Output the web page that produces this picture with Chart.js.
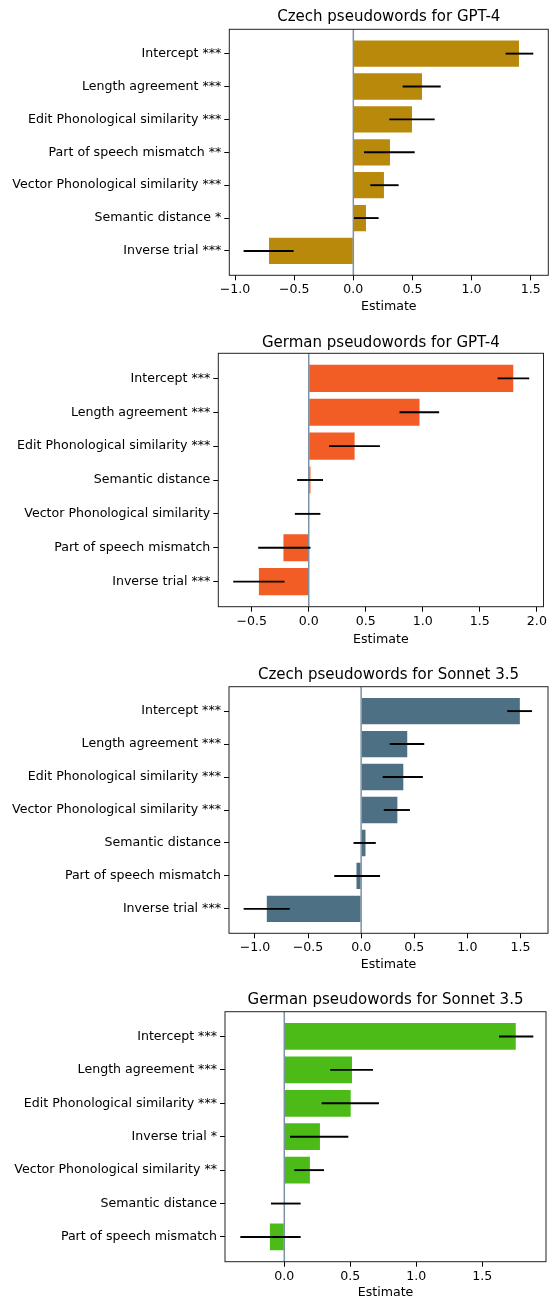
<!DOCTYPE html>
<html>
<head>
<meta charset="utf-8">
<script src="https://cdn.jsdelivr.net/npm/chart.js@4.4.1/dist/chart.umd.min.js"></script>
<style>
    body { margin: 0; background: #fff; }
    canvas { position: absolute; left: 0; }
</style>
</head>
<body>
<canvas id="chart-cz-gpt" width="549" height="330" style="top:0px"></canvas>
<canvas id="chart-de-gpt" width="549" height="330" style="top:330px"></canvas>
<canvas id="chart-cz-sonnet" width="549" height="330" style="top:660px"></canvas>
<canvas id="chart-de-sonnet" width="549" height="310" style="top:990px"></canvas>
<script>
// Czech pseudowords for GPT-4
const czGptLabels = ['Intercept ***', 'Length agreement ***', 'Edit Phonological similarity ***', 'Part of speech mismatch **', 'Vector Phonological similarity ***', 'Semantic distance *', 'Inverse trial ***']
const czGptEst = [1.401, 0.581, 0.496, 0.310, 0.259, 0.107, -0.713]
const czGptLow = [1.288, 0.417, 0.304, 0.090, 0.144, 0.006, -0.928]
const czGptHigh = [1.522, 0.739, 0.688, 0.519, 0.383, 0.214, -0.505]

// German pseudowords for GPT-4
const deGptLabels = ['Intercept ***', 'Length agreement ***', 'Edit Phonological similarity ***', 'Semantic distance', 'Vector Phonological similarity', 'Part of speech mismatch', 'Inverse trial ***']
const deGptEst = [1.793, 0.971, 0.402, 0.015, -0.005, -0.222, -0.437]
const deGptLow = [1.656, 0.796, 0.178, -0.102, -0.122, -0.443, -0.662]
const deGptHigh = [1.933, 1.143, 0.624, 0.125, 0.102, 0.015, -0.213]

// Czech pseudowords for Sonnet 3.5
const czSonLabels = ['Intercept ***', 'Length agreement ***', 'Edit Phonological similarity ***', 'Vector Phonological similarity ***', 'Semantic distance', 'Part of speech mismatch', 'Inverse trial ***']
const czSonEst = [1.494, 0.434, 0.397, 0.341, 0.041, -0.044, -0.888]
const czSonLow = [1.375, 0.269, 0.203, 0.213, -0.072, -0.253, -1.106]
const czSonHigh = [1.609, 0.594, 0.581, 0.459, 0.138, 0.178, -0.672]

// German pseudowords for Sonnet 3.5
const deSonLabels = ['Intercept ***', 'Length agreement ***', 'Edit Phonological similarity ***', 'Inverse trial *', 'Vector Phonological similarity **', 'Semantic distance', 'Part of speech mismatch']
const deSonEst = [1.753, 0.513, 0.503, 0.270, 0.194, 0.005, -0.109]
const deSonLow = [1.626, 0.348, 0.283, 0.043, 0.076, -0.101, -0.333]
const deSonHigh = [1.886, 0.672, 0.717, 0.485, 0.301, 0.124, 0.124]

const font = { family: '"DejaVu Sans", sans-serif', size: 12.6 }
const titleFont = { family: '"DejaVu Sans", sans-serif', size: 15, weight: 'normal', lineHeight: 1.2 }

function fmtTick(v) {
    const s = Math.abs(v).toFixed(1)
    return v < -1e-9 ? '\u2212' + s : s
}

// zero line, error bars and the box around the plot
const extras = {
    id: 'extras',
    afterDatasetsDraw(chart) {
        const { ctx, chartArea: a } = chart
        const x = chart.scales.x
        ctx.save()
        const x0 = x.getPixelForValue(0)
        ctx.strokeStyle = '#7b92a6'
        ctx.lineWidth = 1.5
        ctx.beginPath()
        ctx.moveTo(x0, a.top)
        ctx.lineTo(x0, a.bottom)
        ctx.stroke()

        chart.data.datasets.forEach((ds, di) => {
            chart.getDatasetMeta(di).data.forEach((bar, i) => {
                ctx.strokeStyle = '#000'
                ctx.lineWidth = 1.9
                ctx.beginPath()
                ctx.moveTo(x.getPixelForValue(ds.errLow[i]), bar.y)
                ctx.lineTo(x.getPixelForValue(ds.errHigh[i]), bar.y)
                ctx.stroke()
            })
        })

        ctx.strokeStyle = '#222'
        ctx.lineWidth = 1
        ctx.strokeRect(a.left, a.top, a.right - a.left, a.bottom - a.top)
        ctx.restore()
    }
}

function makeChart(id, title, color, labels, est, low, high, xMin, xMax, box) {
    const canvas = document.getElementById(id)
    const H = canvas.height

    new Chart(canvas, {
        type: 'bar',
        data: {
            datasets: [
                {
                    data: est.map((v, i) => ({ x: v, y: i })),
                    errLow: low,
                    errHigh: high,
                    backgroundColor: color,
                    borderWidth: 0,
                    barPercentage: 0.8,
                    categoryPercentage: 1
                }
            ]
        },
        options: {
            responsive: false,
            animation: false,
            indexAxis: 'y',
            layout: {
                padding: { left: 0, right: 549 - box.right, top: 0, bottom: 0 }
            },
            scales: {
                x: {
                    type: 'linear',
                    min: xMin,
                    max: xMax,
                    afterFit: s => { s.height = H - box.bottom },
                    ticks: {
                        stepSize: 0.5,
                        includeBounds: false,
                        autoSkip: false,
                        maxRotation: 0,
                        color: '#000',
                        font: font,
                        padding: 2,
                        callback: v => fmtTick(v)
                    },
                    border: { display: false },
                    grid: {
                        drawOnChartArea: false,
                        tickLength: 5,
                        color: '#000',
                        lineWidth: 1
                    },
                    title: {
                        display: true,
                        text: 'Estimate',
                        color: '#000',
                        font: font,
                        padding: { top: 0, bottom: box.xTitlePad }
                    }
                },
                // top axis only carries the chart title, centred over the plot
                xTop: {
                    type: 'linear',
                    position: 'top',
                    afterFit: s => { s.height = box.top },
                    ticks: { display: false },
                    grid: { display: false },
                    border: { display: false },
                    title: {
                        display: true,
                        text: title,
                        color: '#000',
                        font: titleFont,
                        padding: { top: box.titleY - 9, bottom: 0 }
                    }
                },
                y: {
                    type: 'linear',
                    reverse: true,
                    offset: false,
                    min: -0.74,
                    max: labels.length - 1 + 0.74,
                    afterFit: s => { s.width = box.left },
                    ticks: {
                        stepSize: 1,
                        includeBounds: false,
                        autoSkip: false,
                        color: '#000',
                        font: font,
                        padding: 3,
                        callback: v => labels[v]
                    },
                    border: { display: false },
                    grid: {
                        offset: false,
                        drawOnChartArea: false,
                        tickLength: 5,
                        color: '#000',
                        lineWidth: 1
                    }
                }
            },
            plugins: {
                title: { display: false },
                legend: { display: false },
                tooltip: { enabled: false }
            }
        },
        plugins: [extras]
    })
}

makeChart('chart-cz-gpt', 'Czech pseudowords for GPT-4', '#b8890b',
    czGptLabels, czGptEst, czGptLow, czGptHigh, -1.049, 1.649,
    { top: 29.3, bottom: 275.3, left: 229.3, right: 548.3, titleY: 16.7, xTitlePad: 15.8 })

makeChart('chart-de-gpt', 'German pseudowords for GPT-4', '#f15d24',
    deGptLabels, deGptEst, deGptLow, deGptHigh, -0.793, 2.058,
    { top: 23.3, bottom: 276.7, left: 218.3, right: 544.3, titleY: 13.3, xTitlePad: 12.5 })

makeChart('chart-cz-sonnet', 'Czech pseudowords for Sonnet 3.5', '#4e7084',
    czSonLabels, czSonEst, czSonLow, czSonHigh, -1.244, 1.759,
    { top: 26.7, bottom: 273.3, left: 229, right: 548, titleY: 15, xTitlePad: 17.5 })

makeChart('chart-de-sonnet', 'German pseudowords for Sonnet 3.5', '#4cbb17',
    deSonLabels, deSonEst, deSonLow, deSonHigh, -0.449, 1.982,
    { top: 21.7, bottom: 271.7, left: 225, right: 546, titleY: 10.5, xTitlePad: 0 })
</script>
</body>
</html>
